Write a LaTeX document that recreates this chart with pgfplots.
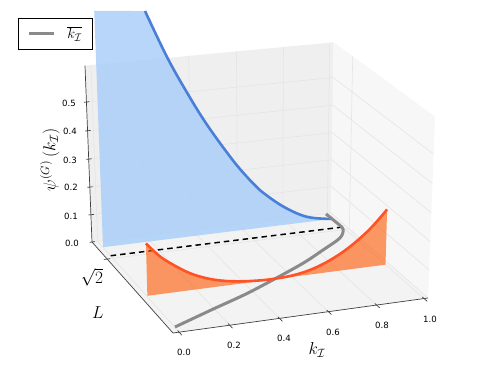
\documentclass[border=0pt]{standalone}
\usepackage[no-math]{fontspec}
\usepackage{pgfplots}
\pgfplotsset{compat=1.18}
\newfontfamily\tickfont{DejaVu Sans}
\definecolor{paneB}{HTML}{EFEFEF}
\definecolor{paneR}{HTML}{F7F7F7}
\definecolor{paneF}{HTML}{F3F3F3}
\definecolor{gridc}{HTML}{E5E5E5}
\definecolor{bluel}{HTML}{4A7FD8}
\definecolor{bluef}{HTML}{AACFF9}
\definecolor{orl}{HTML}{FF5227}
\definecolor{orf}{HTML}{FF5700}
\definecolor{grayl}{HTML}{8A8A8A}
\definecolor{axc}{HTML}{404040}
% perspective view of the three-dimensional data (k, L, z)
\pgfplotsset{
  table/persp/.style={
    x expr={pu(\thisrow{k},\thisrow{l},\thisrow{z})},
    y expr={pv(\thisrow{k},\thisrow{l},\thisrow{z})}},
}
\newcommand\seg[3][]{\addplot[forget plot,#1] table[persp,row sep=\\]{k l z\\#2\\#3\\};}
\newcommand\gridl[2]{\seg[gridc,line width=0.6pt]{#1}{#2}}
\newcommand\axl[2]{\seg[axc,line width=0.7pt]{#1}{#2}}
\begin{document}
\begin{tikzpicture}
\path (0,0) rectangle (498pt,376pt);
\begin{axis}[
  declare function={
    pw(\x,\y,\z)=1.000965+0.0403*\x+0.08397*\y-0.068*\z;
    pu(\x,\y,\z)=(179.278+262.3*\x-73.27*\y-17.92*\z)/pw(\x,\y,\z);
    pv(\x,\y,\z)=(332.48-21.62*\x-70.68*\y-310.4*\z)/pw(\x,\y,\z);
  },
  scale only axis, width=498pt, height=376pt,
  xmin=0, xmax=498, ymin=0, ymax=376, y dir=reverse,
  axis lines=none,
  legend style={at={(axis cs:18,18)},anchor=north west,draw=black,line width=0.7pt,
    font=\fontsize{15}{17}\selectfont,inner xsep=9pt,inner ysep=6.5pt,
    legend cell align=left},
  legend image code/.code={\draw[#1,line width=3pt] (0pt,0pt) -- (25pt,0pt);},
]
% panes
\addplot[forget plot,fill=paneF,draw=none] table[persp,row sep=\\]{k l z\\-0.024 0 0\\1.017 0 0\\1.017 1 0\\-0.024 1 0\\}--cycle;
\addplot[forget plot,fill=paneB,draw=none] table[persp,row sep=\\]{k l z\\-0.024 1 0\\1.017 1 0\\1.017 1 0.625\\-0.024 1 0.625\\}--cycle;
\addplot[forget plot,fill=paneR,draw=none] table[persp,row sep=\\]{k l z\\1.017 1 0\\1.017 0 0\\1.017 0 0.625\\1.017 1 0.625\\}--cycle;
% grid
\pgfplotsinvokeforeach{0,0.2,0.4,0.6,0.8,1.0}{
  \gridl{#1 0 0}{#1 1 0}
  \gridl{#1 1 0}{#1 1 0.625}
}
\pgfplotsinvokeforeach{0,0.1,0.2,0.3,0.4,0.5}{
  \gridl{-0.024 1 #1}{1.017 1 #1}
  \gridl{1.017 1 #1}{1.017 0 #1}
}
\gridl{-0.024 0.8 0}{1.017 0.8 0}
\gridl{1.017 0.8 0}{1.017 0.8 0.625}
% axis lines and ticks
\axl{-0.024 1 0.625}{-0.024 1 0}
\axl{-0.024 1 0}{-0.024 0 0}
\axl{-0.024 0 0}{1.017 0 0}
\pgfplotsinvokeforeach{0,0.1,0.2,0.3,0.4,0.5}{
  \axl{-0.034 1 #1}{-0.012 1 #1}
}
\pgfplotsinvokeforeach{0,0.2,0.4,0.6,0.8,1.0}{
  \axl{#1 0.017 0}{#1 -0.03 0}
}
\axl{-0.038 0.8 0}{-0.012 0.8 0}
% blue density, cut at the top of the figure
\addplot[forget plot,fill=bluef,fill opacity=0.85,draw=none] table[persp,row sep=\\]{
k l z\\
0 0.93 0\\
0 0.93 0.8232\\
0.2022 0.93 0.8087\\
0.2869 0.93 0.6472\\
0.3665 0.93 0.518\\
0.4481 0.93 0.398\\
0.5567 0.93 0.2605\\
0.6296 0.93 0.1815\\
0.6728 0.93 0.1405\\
0.7738 0.93 0.0705\\
0.8805 0.93 0.0205\\
0.9927 0.93 0.001\\
}--cycle;
\addplot[forget plot,bluel,line width=2.6pt,smooth,tension=0.6] table[persp,row sep=\\]{
k l z\\
0.2022 0.93 0.8087\\
0.2869 0.93 0.6472\\
0.3665 0.93 0.518\\
0.4481 0.93 0.398\\
0.5567 0.93 0.2605\\
0.6296 0.93 0.1815\\
0.6728 0.93 0.1405\\
0.7738 0.93 0.0705\\
0.8805 0.93 0.0205\\
0.9927 0.93 0.001\\
};
% dashed level
\addplot[forget plot,black,line width=1.5pt,dash pattern=on 5.5pt off 4pt] table[persp,row sep=\\]{
k l z\\
0 0.83 0\\
0.996 0.83 0\\
};
% orange density
\addplot[forget plot,fill=orf,fill opacity=0.6,draw=none] table[persp,row sep=\\]{
k l z\\
0.003 0.38 0\\
0.003 0.38 0.1838\\
0.0575 0.38 0.1330\\
0.1088 0.38 0.0985\\
0.1771 0.38 0.0605\\
0.2461 0.38 0.0345\\
0.3116 0.38 0.0185\\
0.3819 0.38 0.0085\\
0.4525 0.38 0.003\\
0.5068 0.38 0.0015\\
0.5908 0.38 0.004\\
0.6753 0.38 0.0165\\
0.7598 0.38 0.0425\\
0.8444 0.38 0.0825\\
0.9287 0.38 0.1375\\
1.0 0.38 0.2001\\
1.0 0.38 0\\
}--cycle;
% mean wave number
\addplot[grayl,line width=3pt,smooth,tension=0.5] table[persp,row sep=\\]{
k l z\\
0.0018 0.052 0\\
0.195 0.17 0\\
0.388 0.286 0\\
0.676 0.4885 0\\
0.824 0.612 0\\
0.9407 0.716 0\\
0.9922 0.808 0\\
0.995 0.90 0\\
0.9923 0.996 0\\
};
\addlegendentry{\hspace*{10pt}$\overline{k_{\mathcal{I}}}$\hspace*{-1pt}}
\addplot[forget plot,orl,line width=2.6pt,smooth,tension=0.6] table[persp,row sep=\\]{
k l z\\
0.003 0.38 0.1838\\
0.0575 0.38 0.1330\\
0.1088 0.38 0.0985\\
0.1771 0.38 0.0605\\
0.2461 0.38 0.0345\\
0.3116 0.38 0.0185\\
0.3819 0.38 0.0085\\
0.4525 0.38 0.003\\
0.5068 0.38 0.0015\\
0.5908 0.38 0.004\\
0.6753 0.38 0.0165\\
0.7598 0.38 0.0425\\
0.8444 0.38 0.0825\\
0.9287 0.38 0.1375\\
1.0 0.38 0.2001\\
};
% tick labels
\begin{scope}[every node/.style={font=\tickfont\fontsize{8.6}{10}\selectfont,inner sep=0pt}]
\node[anchor=east] at (axis cs:76,103) {0.5};
\node[anchor=east] at (axis cs:77,131.5) {0.4};
\node[anchor=east] at (axis cs:77,160) {0.3};
\node[anchor=east] at (axis cs:78,187.5) {0.2};
\node[anchor=east] at (axis cs:78,216) {0.1};
\node[anchor=east] at (axis cs:79,243) {0.0};
\node at (axis cs:184,352) {0.0};
\node at (axis cs:234,345) {0.2};
\node at (axis cs:284,338) {0.4};
\node at (axis cs:333,332) {0.6};
\node at (axis cs:382,325) {0.8};
\node at (axis cs:430,319) {1.0};
\end{scope}
% axis titles
\node[font=\fontsize{17.5}{20}\selectfont,rotate=90] at (axis cs:50,160) {$\psi^{(G)}\,(k_{\mathcal{I}})$};
\node[font=\fontsize{18}{20}\selectfont] at (axis cs:317,350) {$k_{\mathcal{I}}$};
\node[font=\fontsize{18}{20}\selectfont] at (axis cs:92,277) {$\sqrt{2}$};
\node[font=\fontsize{18}{20}\selectfont] at (axis cs:98,313) {$L$};
\end{axis}
\end{tikzpicture}
\end{document}
